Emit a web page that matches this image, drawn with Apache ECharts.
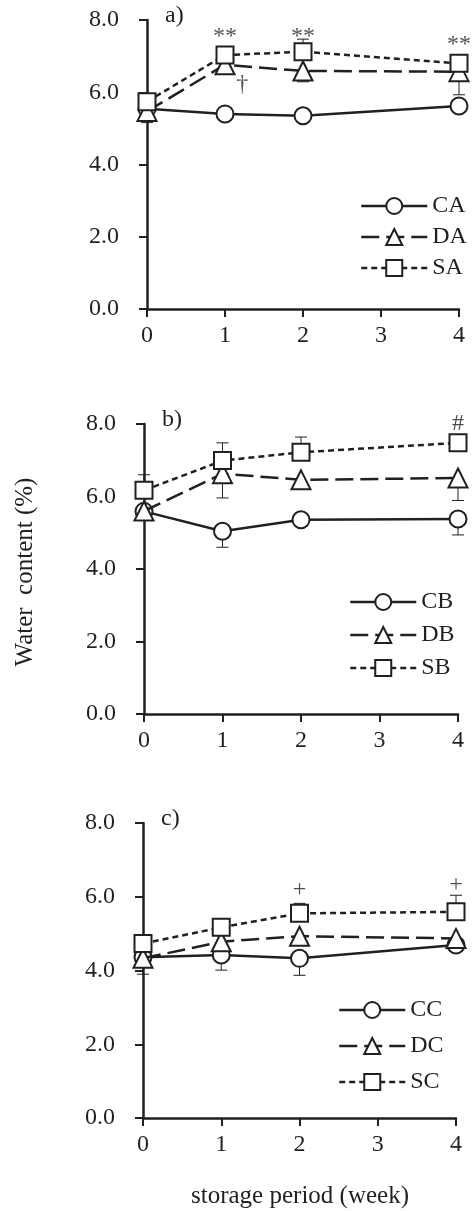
<!DOCTYPE html>
<html>
<head>
<meta charset="utf-8">
<script src="https://cdn.jsdelivr.net/npm/echarts@6/dist/echarts.min.js"></script>
<style>
html,body{margin:0;padding:0;background:#fff;}
#chart{width:474px;height:1211px;}
</style>
</head>
<body>
<div id="chart"></div>
<script>
// storage weeks
var weeks = [0, 1, 2, 4];
var xTicks = [0, 1, 2, 3, 4];
var yTicks = [0, 2, 4, 6, 8];

// panel a
var CA = [5.54, 5.40, 5.35, 5.62];
var DA = [5.47, 6.76, 6.59, 6.57];
var SA = [5.74, 7.03, 7.12, 6.80];
// panel b
var CB = [5.59, 5.04, 5.36, 5.38];
var DB = [5.60, 6.63, 6.46, 6.51];
var SB = [6.17, 6.99, 7.22, 7.48];
// panel c
var CC = [4.36, 4.42, 4.33, 4.69];
var DC = [4.33, 4.78, 4.93, 4.87];
var SC = [4.73, 5.17, 5.55, 5.59];

// visible error bars [up, down]
var errCA = [[0, 0.38], [0, 0], [0, 0], [0, 0]];
var errDA = [[0, 0], [0, 0], [0, 0.30], [0, 0.64]];
var errSA = [[0, 0], [0, 0], [0.35, 0], [0, 0]];
var errCB = [[0, 0], [0, 0.44], [0, 0], [0, 0.44]];
var errDB = [[0, 0], [0, 0.67], [0, 0], [0, 0.62]];
var errSB = [[0.43, 0], [0.49, 0], [0.42, 0], [0, 0]];
var errCC = [[0, 0.46], [0, 0.41], [0, 0.46], [0, 0]];
var errDC = [[0, 0], [0, 0], [0, 0], [0, 0]];
var errSC = [[0, 0], [0, 0], [0.27, 0], [0.45, 0]];

// significance marks [x, y, text]
var marksA = [[1, 7.55, '**'], [2, 7.55, '**'], [4, 7.33, '**'], [1.22, 6.2, '†']];
var marksB = [[4, 8.0, '#']];
var marksC = [[2, 6.2, '+'], [4, 6.34, '+']];

var FONT = 'Liberation Serif';
var INK = '#231f20';

var panels = [
	{left: 147, top: 20, width: 312, height: 289, names: ['CA', 'DA', 'SA'], data: [CA, DA, SA], err: [errCA, errDA, errSA], marks: marksA, tag: 'a)',
		legend: {left: 360, top: 194, gap: 7}},
	{left: 144, top: 424, width: 314, height: 290, names: ['CB', 'DB', 'SB'], data: [CB, DB, SB], err: [errCB, errDB, errSB], marks: marksB, tag: 'b)',
		legend: {left: 349, top: 590, gap: 9}},
	{left: 143, top: 823, width: 313, height: 295, names: ['CC', 'DC', 'SC'], data: [CC, DC, SC], err: [errCC, errDC, errSC], marks: marksC, tag: 'c)',
		legend: {left: 338, top: 998, gap: 12}}
];

var symbols = ['circle', 'triangle', 'rect'];
var dashes = ['solid', [18, 7], [6, 4]];

var chart = echarts.init(document.getElementById('chart'));

var grids = [], xAxes = [], yAxes = [], series = [], legends = [], graphics = [];

function pair(xs, ys){
	return xs.map(function(x, i){ return [x, ys[i]]; });
}

function errorItem(params, api){
	var x = api.value(0), y = api.value(1), up = api.value(2), dn = api.value(3);
	var c = api.coord([x, y]);
	var kids = [];
	var st = {stroke: INK, lineWidth: 1};
	if(up > 0){
		var t = api.coord([x, y + up]);
		kids.push({type: 'line', shape: {x1: c[0], y1: c[1], x2: t[0], y2: t[1]}, style: st});
		kids.push({type: 'line', shape: {x1: t[0] - 6, y1: t[1], x2: t[0] + 6, y2: t[1]}, style: st});
	}
	if(dn > 0){
		var b = api.coord([x, y - dn]);
		kids.push({type: 'line', shape: {x1: c[0], y1: c[1], x2: b[0], y2: b[1]}, style: st});
		kids.push({type: 'line', shape: {x1: b[0] - 6, y1: b[1], x2: b[0] + 6, y2: b[1]}, style: st});
	}
	return {type: 'group', children: kids};
}

panels.forEach(function(p, k){
	grids.push({left: p.left, top: p.top, width: p.width, height: p.height});
	xAxes.push({
		type: 'value', gridIndex: k, min: xTicks[0], max: xTicks[xTicks.length - 1], interval: 1,
		axisLine: {onZero: false, lineStyle: {color: INK, width: 2.5}},
		axisTick: {show: true, length: 8, lineStyle: {color: INK, width: 2}},
		axisLabel: {color: INK, fontFamily: FONT, fontSize: 24, margin: 15},
		splitLine: {show: false}
	});
	yAxes.push({
		type: 'value', gridIndex: k, min: yTicks[0], max: yTicks[yTicks.length - 1], interval: 2,
		axisLine: {show: true, lineStyle: {color: INK, width: 2.5}},
		axisTick: {show: true, length: 8, lineStyle: {color: INK, width: 2}},
		axisLabel: {color: INK, fontFamily: FONT, fontSize: 24, margin: 28, formatter: function(v){ return v.toFixed(1); }},
		splitLine: {show: false}
	});
	p.names.forEach(function(name, j){
		series.push({
			type: 'custom', name: name + '_err', xAxisIndex: k, yAxisIndex: k, z: 1, clip: false, silent: true,
			renderItem: errorItem,
			data: weeks.map(function(x, i){ return [x, p.data[j][i], p.err[j][i][0], p.err[j][i][1]]; })
		});
	});
	p.names.forEach(function(name, j){
		series.push({
			type: 'line', name: name, xAxisIndex: k, yAxisIndex: k, z: 3 + j, clip: false,
			data: pair(weeks, p.data[j]),
			symbol: symbols[j], symbolSize: j == 1 ? 19 : 17,
			lineStyle: {color: INK, width: 2.5, type: dashes[j]},
			itemStyle: {color: '#fff', borderColor: INK, borderWidth: 2},
			animation: false
		});
	});
	series.push({
		type: 'scatter', xAxisIndex: k, yAxisIndex: k, z: 10, symbolSize: 1, silent: true,
		itemStyle: {color: 'transparent'},
		label: {show: true, position: 'inside', color: INK, fontFamily: FONT, fontSize: 24,
			formatter: function(q){ return q.value[2]; }},
		data: p.marks
	});
	legends.push({
		data: p.names, orient: 'vertical', left: p.legend.left, top: p.legend.top, padding: 0,
		itemWidth: 66, itemHeight: 20, itemGap: p.legend.gap, selectedMode: false,
		lineStyle: {width: 2.5},
		textStyle: {color: INK, fontFamily: FONT, fontSize: 24}
	});
	graphics.push({
		type: 'text', left: p.left + 18, top: p.top - 16,
		style: {text: p.tag, fill: INK, font: '24px "' + FONT + '"'}
	});
});

graphics.push({
	type: 'text', x: 25, y: 572, rotation: Math.PI / 2,
	style: {text: 'Water  content (%)', fill: INK, font: '25px "' + FONT + '"', align: 'center', verticalAlign: 'middle'}
});
graphics.push({
	type: 'text', x: 300, y: 1196,
	style: {text: 'storage period (week)', fill: INK, font: '25px "' + FONT + '"', align: 'center', verticalAlign: 'middle'}
});

chart.setOption({
	animation: false,
	backgroundColor: '#fff',
	grid: grids,
	xAxis: xAxes,
	yAxis: yAxes,
	legend: legends,
	series: series,
	graphic: graphics
});
</script>
</body>
</html>
